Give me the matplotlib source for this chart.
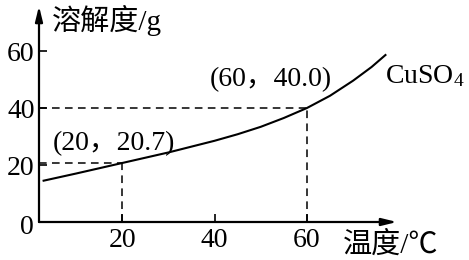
import numpy as np
import matplotlib
matplotlib.use('Agg')
import matplotlib.pyplot as plt

# 数据
temp = [3, 10, 20, 30, 40, 45, 50, 55, 60, 65, 70, 74, 77]
solub = [14.5, 17.0, 20.7, 24.4, 28.5, 30.8, 33.4, 36.5, 40.0, 44.3, 49.6, 54.4, 58.6]
xticks = [20, 40, 60]
yticks = [20, 40, 60]
marks = [(20, 20.7), (60, 40.0)]

plt.rcParams['mathtext.fontset'] = 'stix'
fam = ['Liberation Serif', 'Noto Sans CJK SC']

fig = plt.figure(figsize=(4.69, 2.60), dpi=100)
ax = fig.add_axes([39 / 469, 38 / 260, (397 - 39) / 469, (222 - 6) / 260])
ax.set_xlim(2, 79.5)
ax.set_ylim(0, 75.8)

for s in ax.spines.values():
    s.set_visible(False)

# 坐标轴箭头
arrow = dict(arrowstyle='-|>,head_length=0.9,head_width=0.22', color='black',
             lw=1.6, shrinkA=0, shrinkB=0)
ax.annotate('', xy=(1, 0), xytext=(0, 0), xycoords='axes fraction', arrowprops=arrow)
ax.annotate('', xy=(0, 1), xytext=(0, 0), xycoords='axes fraction', arrowprops=arrow)

ax.set_xticks(xticks)
ax.set_yticks(yticks)
ax.tick_params(direction='in', length=6, width=1.2, labelsize=20)
ax.tick_params(axis='x', pad=4)
ax.tick_params(axis='y', pad=3)
for lab in ax.get_xticklabels() + ax.get_yticklabels():
    lab.set_family('Liberation Serif')
fig.text(34 / 469, 1 - 228 / 260, '0', ha='right', va='center',
         fontsize=20, family='Liberation Serif')

# 曲线
ax.plot(temp, solub, color='black', lw=1.5)

# 虚线
for mx, my in marks:
    ax.plot([ax.get_xlim()[0], mx], [my, my], color='black', lw=1.1, ls=(0, (5, 3.5)))
    ax.plot([mx, mx], [0, my], color='black', lw=1.1, ls=(0, (5, 3.5)))

ax.text(5, 27.5, '(20，20.7)', fontsize=20, family=fam, va='center')
ax.text(39, 49.8, '(60，40.0)', fontsize=20, family=fam, va='center')
ax.text(76.9, 51.0, r'CuSO$_\mathregular{4}$', fontsize=20, family='Liberation Serif', va='center')

fig.text(52 / 469, 1 - 20 / 260, '溶解度/g', fontsize=21, family=fam, va='center')
fig.text(343 / 469, 1 - 245 / 260, '温度/℃', fontsize=21, family=fam, va='center')

fig.savefig('out.png', dpi=100)
